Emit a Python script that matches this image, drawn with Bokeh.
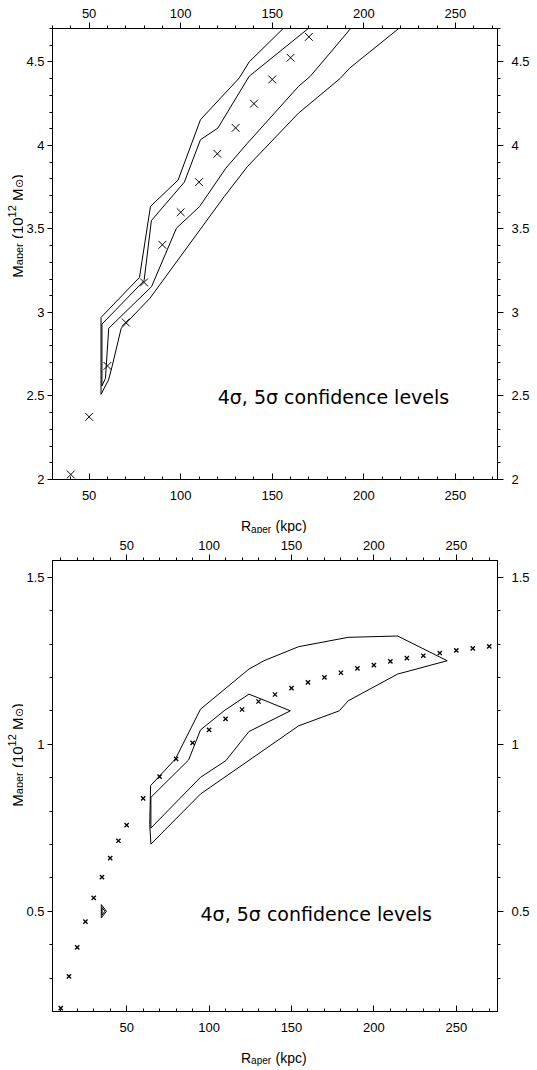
import math
from bokeh.plotting import figure
from bokeh.models import (Range1d, LinearAxis, SingleIntervalTicker,
                          CustomJSTickFormatter, Label)
from bokeh.layouts import column, row
from bokeh.embed import file_html
from bokeh.resources import INLINE

# ---------------- data: top panel ----------------
r_top = [40, 50, 60, 70, 80, 90, 100, 110, 120, 130, 140, 150, 160, 170]
m_top = [2.03, 2.375, 2.68, 2.94, 3.18, 3.405, 3.60, 3.78, 3.95, 4.105,
         4.25, 4.395, 4.525, 4.65]

# 5 sigma contour (left side from top down, then right side up)
c5_top_x = [156.9, 137.4, 132.0, 110.8, 98.6, 83.5, 77.5, 56.5, 56.5,
            60.6, 62.5, 67.5, 83.2, 123.8, 136.5, 164.4, 187.0, 192.4, 220.2]
c5_top_y = [4.71, 4.50, 4.404, 4.154, 3.793, 3.635, 3.21, 2.97, 2.51,
            2.596, 2.675, 2.905, 3.085, 3.694, 3.874, 4.194, 4.40, 4.464, 4.71]
# 4 sigma contour
c4_top_x = [170.8, 137.4, 120.3, 110.8, 102.0, 84.0, 80.0, 57.0, 57.0,
            58.9, 60.7, 84.1, 97.7, 110.3, 124.7, 136.5, 164.4, 170.8, 193.6]
c4_top_y = [4.71, 4.414, 4.104, 4.034, 3.78, 3.55, 3.19, 2.93, 2.56,
            2.605, 2.905, 3.155, 3.505, 3.634, 3.864, 4.014, 4.354, 4.414, 4.71]

# ---------------- data: bottom panel ----------------
r_bot = [10, 15, 20, 25, 30, 35, 40, 45, 50, 60, 70, 80, 90, 100, 110, 120,
         130, 140, 150, 160, 170, 180, 190, 200, 210, 220, 230, 240, 250,
         260, 270]
m_bot = [0.21, 0.305, 0.392, 0.469, 0.54, 0.602, 0.659, 0.711, 0.758,
         0.838, 0.903, 0.956, 1.004, 1.043, 1.076, 1.104, 1.128, 1.149,
         1.168, 1.185, 1.20, 1.214, 1.227, 1.237, 1.248, 1.258, 1.265,
         1.273, 1.281, 1.287, 1.293]

c5_bot_x = [64.7, 64.0, 64.5, 79.6, 94.8, 124.2, 133.3, 154.3, 184.4, 214.4,
            244.5, 214.4, 184.4, 179.0, 154.3, 94.8, 64.7]
c5_bot_y = [0.701, 0.76, 0.876, 0.956, 1.105, 1.225, 1.25, 1.292, 1.32,
            1.324, 1.25, 1.21, 1.13, 1.10, 1.055, 0.851, 0.701]

c4_bot_x = [64.7, 64.7, 87.6, 94.8, 109.6, 124.2, 149.3, 124.2, 110.2, 94.8,
            64.7]
c4_bot_y = [0.749, 0.841, 0.953, 1.043, 1.102, 1.15, 1.10, 1.038, 0.951,
            0.901, 0.749]

# small isolated contour near R=35
c5_small_x = [34.6, 37.7, 34.6, 34.6]
c5_small_y = [0.52, 0.50, 0.48, 0.52]
c4_small_x = [35.1, 36.8, 35.1, 35.1]
c4_small_y = [0.511, 0.50, 0.489, 0.511]

x_ticks_major = 50
y_ticks_major = 0.5
annotation = "4\u03c3, 5\u03c3 confidence levels"

TICK_FONT = "Liberation Sans"
LAB_FONT = "Liberation Sans"
W = 537
YL_W = 23


def make_fig(xr, yr, height, top_b, bottom_b):
    p = figure(width=W - YL_W, height=height, x_range=Range1d(*xr),
               y_range=Range1d(*yr), output_backend="svg",
               toolbar_location=None, x_axis_location=None,
               y_axis_location=None, min_border_left=50 - YL_W,
               min_border_right=40, min_border_top=top_b,
               min_border_bottom=bottom_b)
    p.grid.visible = False
    p.outline_line_color = "black"
    p.outline_line_width = 1
    p.background_fill_color = "white"
    p.border_fill_color = "white"
    fmt = CustomJSTickFormatter(
        code="return String(Math.round(tick*100)/100);")
    for loc in ["below", "above", "left", "right"]:
        if loc in ("below", "above"):
            tk = SingleIntervalTicker(interval=x_ticks_major, num_minor_ticks=5)
        else:
            tk = SingleIntervalTicker(interval=y_ticks_major, num_minor_ticks=5)
        ax = LinearAxis(ticker=tk, formatter=fmt)
        ax.axis_line_color = "black"
        ax.major_tick_line_color = "black"
        ax.minor_tick_line_color = "black"
        ax.major_label_text_font = TICK_FONT
        ax.major_label_text_font_size = "13px"
        ax.major_label_text_color = "black"
        if loc == "below":
            ax.major_tick_in = 6
            ax.major_tick_out = 0
            ax.minor_tick_in = 3
            ax.minor_tick_out = 0
            ax.major_label_standoff = 11
        else:
            ax.major_tick_in = 0
            ax.major_tick_out = 5 if loc == "left" else 6
            ax.minor_tick_in = 0
            ax.minor_tick_out = 3
            ax.major_label_standoff = {"left": 3, "right": 8, "above": 5}[loc]
        p.add_layout(ax, loc)
    return p


def blank(width, height):
    p = figure(width=width, height=height, x_range=Range1d(0, width),
               y_range=Range1d(0, height), output_backend="svg",
               toolbar_location=None, x_axis_location=None,
               y_axis_location=None, min_border=0, min_border_left=0,
               min_border_right=0, min_border_top=0, min_border_bottom=0)
    p.grid.visible = False
    p.outline_line_color = None
    p.background_fill_color = "white"
    p.border_fill_color = "white"
    return p


def txt(p, s, x, y, size, angle=0.0, font=LAB_FONT):
    p.add_layout(Label(x=x, y=y, x_units="screen", y_units="screen",
                       text=s, text_font=font, text_font_size=f"{size}px",
                       text_color="black", angle=angle, text_align="left",
                       text_baseline="alphabetic"))


def x_label(height, baseline_from_bottom):
    p = blank(W, height)
    yb = baseline_from_bottom
    txt(p, "R", 240.5, yb, 14)
    txt(p, "aper", 250.6, yb - 3.0, 10)
    txt(p, "(kpc)", 275.0, yb, 14)
    return p


def y_label(height, center_from_bottom):
    p = blank(YL_W, height)
    big, small = 15, 11
    xb = 17.0
    # (text, size, baseline x, advance)
    pieces = [("M", big, xb, 0.833 * big),
              ("aper", small, xb + 1.5, 2.0 * small + 0.278 * big),
              ("(10", big, xb, 1.445 * big),
              ("12", small, xb - 5.5, 1.112 * small + 0.278 * big),
              ("M", big, xb, 0.833 * big),
              ("\u2299", small, xb + 1.5, 0.84 * small),
              (")", big, xb, 0.333 * big)]
    total = sum(pc[3] for pc in pieces)
    y = center_from_bottom - total / 2.0
    for s, sz, xx, adv in pieces:
        txt(p, s, xx, y, sz, angle=math.pi / 2)
        y += adv
    return p


# ---------------- top panel ----------------
p1 = make_fig((30, 273), (1.9999, 4.7), 507, 28, 28)
p1.line(c5_top_x, c5_top_y, line_color="black", line_width=1)
p1.line(c4_top_x, c4_top_y, line_color="black", line_width=1)
p1.scatter(r_top, m_top, marker="x", size=11, line_color="black",
           line_width=1)
p1.add_layout(Label(x=120.2, y=2.495, text=annotation,
                    text_font="DejaVu Sans", text_font_size="19px",
                    text_color="black", text_baseline="alphabetic"))

# ---------------- bottom panel ----------------
p2 = make_fig((5, 275), (0.2, 1.55), 509, 27, 31)
p2.line(c5_bot_x, c5_bot_y, line_color="black", line_width=1)
p2.line(c4_bot_x, c4_bot_y, line_color="black", line_width=1)
p2.line(c5_small_x, c5_small_y, line_color="black", line_width=1)
p2.line(c4_small_x, c4_small_y, line_color="black", line_width=1)
p2.scatter(r_bot, m_bot, marker="x", size=6, line_color="black",
           line_width=1.3)
p2.add_layout(Label(x=94.8, y=0.493, text=annotation,
                    text_font="DejaVu Sans", text_font_size="19px",
                    text_color="black", text_baseline="alphabetic"))

layout = column(
    row(y_label(507, 253.5), p1, spacing=0),
    x_label(26, 7.5),
    row(y_label(509, 256.5), p2, spacing=0),
    x_label(28, 13.0),
    spacing=0,
)
open("out.html", "w").write(file_html(layout, INLINE))
